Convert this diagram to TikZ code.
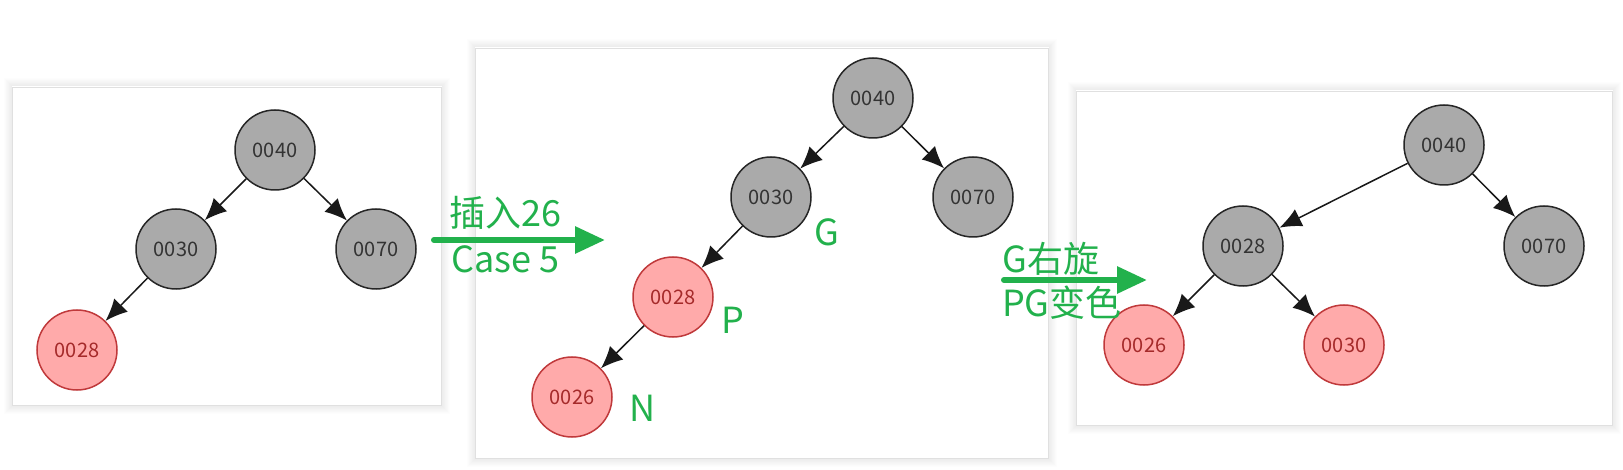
\documentclass[tikz,border=0pt]{standalone}
\usepackage{fontspec}
\setmainfont{Noto Sans CJK SC}
\usepackage{tikz}
\usetikzlibrary{arrows.meta}
\definecolor{markgreen}{HTML}{22B14C}
\definecolor{nodegray}{HTML}{AAAAAA}
\definecolor{nodered}{HTML}{FFAAAA}
\definecolor{redline}{HTML}{C0393B}
\definecolor{redtext}{HTML}{A52A2A}

\begin{document}
\begin{tikzpicture}[x=1pt, y=-1pt,
    blk/.style={circle, draw=black!85, fill=nodegray, line width=1.5pt,
        minimum size=80pt, inner sep=0pt, text=black!80,
        font=\fontsize{20}{20}\selectfont},
    rednode/.style={blk, draw=redline, fill=nodered, text=redtext},
    edge/.style={black!90, line width=1.5pt, -{Latex[length=22pt, width=19pt]}},
    bigarrow/.style={markgreen, line width=6pt, line cap=round,
        -{Triangle[length=30pt, width=26pt]}},
    greenlabel/.style={markgreen, font=\fontsize{36}{36}\selectfont, inner sep=0pt},
    panel/.style={fill=white, draw=black!12, line width=0.8pt}]
    \useasboundingbox (0,0) rectangle (1623,470);

    % panels with soft shadow
    \foreach \xa/\ya/\xb/\yb in {12/87/441/405, 475/48/1048/458, 1076/91/1612/425} {
        \foreach \s in {1,...,8}
            \draw[black, opacity=0.08-0.009*\s, line width=1pt]
                (\xa-\s,\ya-\s) rectangle (\xb+\s,\yb+\s);
        \draw[panel] (\xa,\ya) rectangle (\xb,\yb);
    }

    % before insertion
    \node[blk] (a40) at (275,150) {0040};
    \node[blk] (a30) at (176,249) {0030};
    \node[blk] (a70) at (376,249) {0070};
    \node[rednode] (a28) at (77,350) {0028};
    \draw[edge] (a40) -- (a30);
    \draw[edge] (a40) -- (a70);
    \draw[edge] (a30) -- (a28);

    % after insertion of 26
    \node[blk] (b40) at (873,98) {0040};
    \node[blk] (b30) at (771,197) {0030};
    \node[blk] (b70) at (973,197) {0070};
    \node[rednode] (b28) at (673,297) {0028};
    \node[rednode] (b26) at (572,397) {0026};
    \draw[edge] (b40) -- (b30);
    \draw[edge] (b40) -- (b70);
    \draw[edge] (b30) -- (b28);
    \draw[edge] (b28) -- (b26);
    \node[greenlabel] (gmark) at (827,232) {G};
    \node[greenlabel] (pmark) at (733,320) {P};
    \node[greenlabel] (nmark) at (643,408) {N};

    % after rotation
    \node[blk] (c40) at (1444,145) {0040};
    \node[blk] (c28) at (1243,246) {0028};
    \node[blk] (c70) at (1544,246) {0070};
    \node[rednode] (c26) at (1144,345) {0026};
    \node[rednode] (c30) at (1344,345) {0030};
    \draw[edge] (c40) -- (c28);
    \draw[edge] (c40) -- (c70);
    \draw[edge] (c28) -- (c26);
    \draw[edge] (c28) -- (c30);

    % steps
    \coordinate (s1) at (434,240);
    \coordinate (e1) at (605,240);
    \draw[bigarrow] (s1) -- (e1);
    \node[greenlabel, anchor=base west] (ins) at (449,227) {插入26};
    \node[greenlabel, anchor=base west] (case) at (451,273) {Case 5};

    \coordinate (s2) at (1004,280);
    \coordinate (e2) at (1147,280);
    \draw[bigarrow] (s2) -- (e2);
    \node[greenlabel, anchor=base west] (rot) at (1002,273) {G右旋};
    \node[greenlabel, anchor=base west] (recol) at (1002,317) {PG变色};
\end{tikzpicture}
\end{document}
